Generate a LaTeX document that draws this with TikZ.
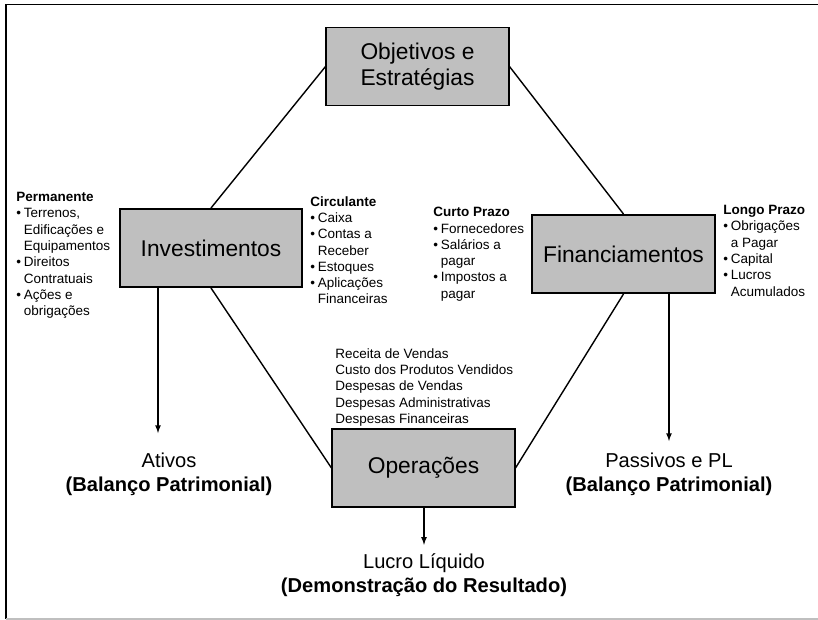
\documentclass[tikz,border=0pt]{standalone}
\usepackage{fontspec}
\setmainfont{Liberation Sans}
\usetikzlibrary{calc}
\def\bul{\makebox[5.4pt][l]{•}}
\def\ind{\hspace*{5.4pt}}
\tikzset{
	caixa/.style={draw=black, line width=1.4pt, fill=black!25, minimum width=4.55cm, minimum height=1.95cm, inner sep=0pt, align=center, font=\fontsize{16.2}{19}\selectfont},
	lista/.style={anchor=north west, inner sep=0pt, align=left, font=\fontsize{9.6}{11.6}\selectfont},
	rotulo/.style={inner sep=0pt, align=center, font=\fontsize{14.3}{17}\selectfont},
	liga/.style={line width=1pt},
	seta/.style={line width=0.9pt, -latex},
}

\begin{document}
\begin{tikzpicture}[x=0.025cm, y=-0.025cm]
		%%%%% START %%%%%
		\useasboundingbox (0, 0) rectangle (818, 620);
		
		% moldura
		\draw[line width=1.2pt] (818, 4.5) -- (6, 4.5) -- (6, 619);
		\draw[line width=1pt, color=black!25] (6, 619) -- (818, 619);
		
		% caixas
		\node[caixa] (obj) at (417.5, 66.5) {Objetivos e\\Estratégias};
		\node[caixa] (inv) at (211, 248) {Investimentos};
		\node[caixa] (fin) at (623.5, 254) {Financiamentos};
		\node[caixa] (ope) at (423.5, 468) {Operações};
		
		\draw[liga] (obj.west) -- (inv.north);
		\draw[liga] (obj.east) -- (fin.north);
		\draw[liga] (inv.south) -- (ope.west);
		\draw[liga] (fin.south) -- (ope.east);
		
		% listas
		\node[lista] (perm) at (16, 192) {\textbf{Permanente}\\\bul Terrenos,\\\ind Edificações e\\\ind Equipamentos\\\bul Direitos\\\ind Contratuais\\\bul Ações e\\\ind obrigações};
		\node[lista] (circ) at (310, 196) {\textbf{Circulante}\\\bul Caixa\\\bul Contas a\\\ind Receber\\\bul Estoques\\\bul Aplicações\\\ind Financeiras};
		\node[lista] (curto) at (433, 207) {\textbf{Curto Prazo}\\\bul Fornecedores\\\bul Salários a\\\ind pagar\\\bul Impostos a\\\ind pagar};
		\node[lista] (longo) at (723, 205) {\textbf{Longo Prazo}\\\bul Obrigações\\\ind a Pagar\\\bul Capital\\\bul Lucros\\\ind Acumulados};
		\node[lista] (contas) at (335, 348) {Receita de Vendas\\Custo dos Produtos Vendidos\\Despesas de Vendas\\Despesas Administrativas\\Despesas Financeiras};
		
		% resultados
		\node[rotulo] (ativos) at (169, 474) {Ativos\\\textbf{(Balanço Patrimonial)}};
		\node[rotulo] (passivos) at (669, 474) {Passivos e PL\\\textbf{(Balanço Patrimonial)}};
		\node[rotulo] (lucro) at (424, 575) {Lucro Líquido\\\textbf{(Demonstração do Resultado)}};
		
		\coordinate (pontaA) at (158, 433);
		\coordinate (pontaP) at (669, 441);
		\draw[seta] (inv.south -| pontaA) -- (pontaA);
		\draw[seta] (fin.south -| pontaP) -- (pontaP);
		\draw[seta] (ope.south -| lucro) -- ([yshift=6pt]lucro.north);
		
		%%%%% END %%%%%
	\end{tikzpicture}
\end{document}
